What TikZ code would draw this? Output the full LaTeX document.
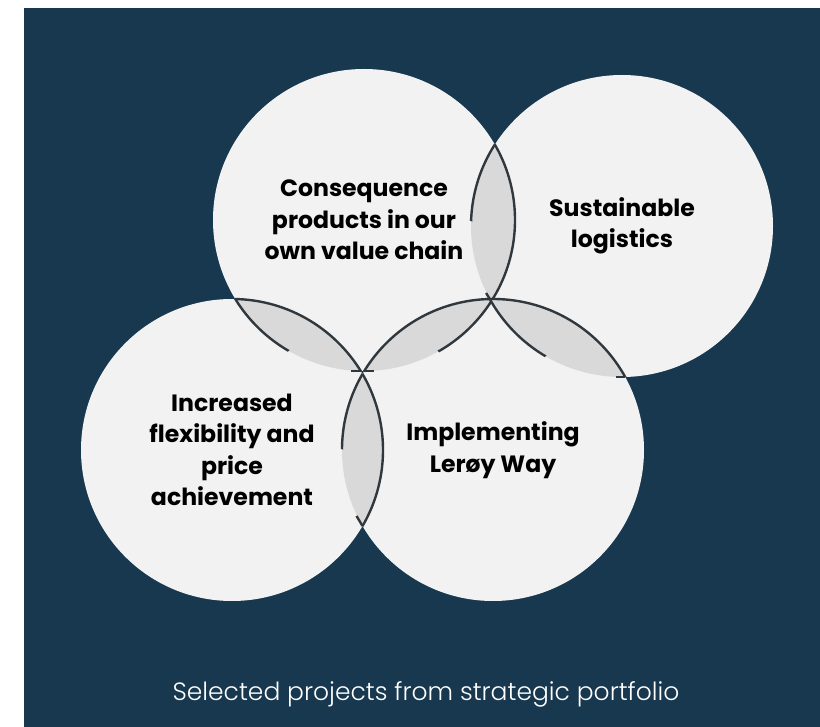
\documentclass[tikz,border=0pt]{standalone}
\usepackage{fontspec}
\setmainfont{Poppins}
\newfontfamily\lightfont{Poppins Light}
\usepackage{tikz}
\definecolor{navy}{HTML}{17384F}
\definecolor{bubblegray}{HTML}{F2F2F2}
\definecolor{lensgray}{HTML}{D9D9D9}
\definecolor{edgegray}{HTML}{30383E}
\tikzstyle{edgeline} = [draw=edgegray, line width=2.4pt, line cap=butt]

\begin{document}
\begin{tikzpicture}[x=1pt, y=-1pt,
    bubble/.style={circle, fill=bubblegray, minimum size=302pt, inner sep=0pt, align=center,
                   font=\bfseries\fontsize{23.6}{31.5}\selectfont, text=black},
    captiontext/.style={font=\lightfont\fontsize{25}{29}\selectfont, text=white},
]
\useasboundingbox (0,0) rectangle (820,727);

% Background
\fill[white] (0,0) rectangle (820,727);
\fill[navy] (24,8) rectangle (820,727);

% Project circles
\node[bubble] (value) at (364,220) {Consequence\\products in our\\own value chain};
\node[bubble] (logistics) at (622,226) {Sustainable\\logistics};
\node[bubble] (price) at (232,450) {Increased\\flexibility and\\price\\achievement};
\node[bubble] (leroy) at (493,450) {Implementing\\Ler\o y Way};

% Lens tips
\coordinate (a1) at (495.9,143.0);
\coordinate (a2) at (492.1,303.0);
\coordinate (b1) at (364.3,371.0);
\coordinate (b2) at (494.7,299.0);
\coordinate (c1) at (237.4,299.1);
\coordinate (c2) at (360.6,370.9);
\coordinate (d1) at (489.8,299.0);
\coordinate (d2) at (625.2,377.0);
\coordinate (e1) at (362.5,374.0);
\coordinate (e2) at (362.5,526.0);

% Overlaps: fill, full arc, half arc and barb
\foreach \full/\part/\ptip/\rho/\ttip/\tx/\ty in {
    value/logistics/a1/82/a2/-6/-10,
    leroy/value/b2/77/b1/10/0,
    price/value/c1/73/c2/-10/0,
    leroy/logistics/d1/80/d2/-9/0,
    price/leroy/e1/78/e2/-6/-10}{
  \begin{scope}
    \clip (\full.center) circle (151pt);
    \fill[lensgray] (\part.center) circle (151pt);
  \end{scope}
  \begin{scope}
    \clip (\part.center) circle (151pt);
    \draw[edgeline] (\full.center) circle (151pt);
  \end{scope}
  \begin{scope}
    \clip (\full.center) circle (151pt);
    \clip (\ptip) circle (\rho pt);
    \draw[edgeline] (\part.center) circle (151pt);
  \end{scope}
  \draw[edgeline] (\ttip) -- ++(\tx,\ty);
}

% Caption
\node[captiontext] (caption) at (426,694) {Selected projects from strategic portfolio};

\end{tikzpicture}
\end{document}
